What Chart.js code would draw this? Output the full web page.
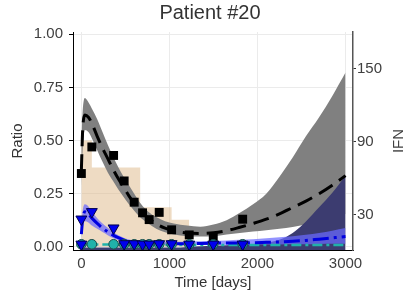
<!DOCTYPE html>
<html>
<head>
<meta charset="utf-8">
<script src="https://cdn.jsdelivr.net/npm/chart.js@4"></script>
<style>
  body { margin: 0; background: #fff; }
</style>
</head>
<body>
<canvas id="chart" width="420" height="300"></canvas>
<script>
// ticks
const xTicks = [0, 1000, 2000, 3000]
const yTicks = [0, 0.25, 0.5, 0.75, 1.0]
const ifnTicks = [30, 90, 150]

// histogram (step bars)
const binEdges = [0, 119, 668, 1025, 1225]
const binHeights = [0.5, 0.373, 0.186, 0.127]

// observations
const obsDays = [0, 119, 366, 486, 600, 695, 770, 884, 1025, 1225, 1498, 1832]
const squareVals = [0.345, 0.47, 0.43, 0.31, 0.21, 0.16, 0.128, 0.162, 0.08, 0.056, 0.045, 0.13]
const triangleVals = [0.13, 0.165, 0.088, 0.014, 0.014, 0.012, 0.012, 0.014, 0.014, 0.012, 0.012, 0.012]
const circleVals = [0.012, 0.012, 0.012, 0.012, 0.012, 0.012, 0.012, 0.012, 0.012, 0.012, 0.012, 0.012]

// model curves
const modelDays = [0, 15, 40, 80, 120, 180, 240, 300, 360, 420, 480, 540, 600, 680, 760, 850, 950, 1050, 1200, 1350, 1500, 1650, 1800, 1950, 2100, 2250, 2400, 2550, 2700, 2850, 3000]
const blackMean = [0.36, 0.55, 0.62, 0.61, 0.58, 0.52, 0.465, 0.415, 0.365, 0.32, 0.28, 0.24, 0.205, 0.165, 0.135, 0.108, 0.088, 0.075, 0.065, 0.063, 0.066, 0.076, 0.092, 0.11, 0.13, 0.155, 0.185, 0.215, 0.25, 0.29, 0.335]
const blackUpper = [0.5, 0.64, 0.7, 0.68, 0.65, 0.6, 0.54, 0.48, 0.425, 0.375, 0.33, 0.29, 0.25, 0.2, 0.165, 0.14, 0.12, 0.11, 0.1, 0.095, 0.105, 0.125, 0.16, 0.2, 0.25, 0.33, 0.42, 0.52, 0.61, 0.71, 0.82]
const blackLower = [0.28, 0.46, 0.55, 0.54, 0.51, 0.455, 0.4, 0.35, 0.31, 0.27, 0.235, 0.2, 0.17, 0.135, 0.11, 0.085, 0.068, 0.058, 0.05, 0.048, 0.05, 0.058, 0.065, 0.072, 0.078, 0.085, 0.093, 0.105, 0.12, 0.135, 0.155]
const blueMean = [0.06, 0.13, 0.165, 0.155, 0.135, 0.11, 0.088, 0.07, 0.055, 0.043, 0.033, 0.026, 0.021, 0.018, 0.016, 0.015, 0.015, 0.015, 0.015, 0.016, 0.017, 0.018, 0.018, 0.019, 0.021, 0.023, 0.026, 0.03, 0.036, 0.042, 0.048]
const blueUpper = [0.1, 0.17, 0.2, 0.19, 0.165, 0.135, 0.11, 0.09, 0.07, 0.055, 0.043, 0.035, 0.03, 0.027, 0.025, 0.024, 0.024, 0.024, 0.025, 0.026, 0.028, 0.03, 0.033, 0.036, 0.04, 0.045, 0.05, 0.057, 0.065, 0.076, 0.088]
const blueLower = [0.04, 0.09, 0.12, 0.115, 0.1, 0.085, 0.07, 0.055, 0.042, 0.032, 0.024, 0.018, 0.014, 0.011, 0.01, 0.01, 0.01, 0.01, 0.01, 0.01, 0.01, 0.01, 0.01, 0.01, 0.011, 0.011, 0.012, 0.012, 0.013, 0.014, 0.015]
const tealMean = [0.012, 0.012, 0.012, 0.012, 0.012, 0.011, 0.011, 0.011, 0.01, 0.01, 0.01, 0.01, 0.01, 0.01, 0.009, 0.009, 0.009, 0.009, 0.009, 0.009, 0.008, 0.008, 0.008, 0.008, 0.008, 0.008, 0.008, 0.008, 0.008, 0.008, 0.008]
const ifnUpper = [3, 3, 3, 3, 3, 3, 3, 3, 3, 3, 3, 3, 3, 3, 3, 3, 3, 3, 3.5, 4, 4.5, 5, 5.5, 6, 7, 9.5, 15, 24.5, 36, 48, 62]

const FONT = "'Liberation Sans', Arial, sans-serif"
const pts = (xs, ys) => xs.map((x, i) => ({ x: x, y: ys[i] }))

function stepPoints() {
    const out = binHeights.map((h, i) => ({ x: binEdges[i], y: h }))
    const last = binEdges[binEdges.length - 1]
    out.push({ x: last, y: binHeights[binHeights.length - 1] })
    out.push({ x: last, y: 0 })
    return out
}

const curve = {
    pointRadius: 0,
    cubicInterpolationMode: 'monotone',
    fill: false
}

// right axis title, drawn bottom-to-top like the left one
const ifnTitle = {
    id: 'ifnTitle',
    afterDraw(chart) {
        const ctx = chart.ctx
        ctx.save()
        ctx.translate(399, 141)
        ctx.rotate(-Math.PI / 2)
        ctx.font = '15px ' + FONT
        ctx.fillStyle = '#404040'
        ctx.textAlign = 'center'
        ctx.textBaseline = 'middle'
        ctx.fillText('IFN', 0, 0)
        ctx.restore()
    }
}

new Chart(document.getElementById('chart'), {
    type: 'line',
    data: {
        datasets: [
            // 0 histogram
            { data: stepPoints(), stepped: 'before', borderWidth: 0, pointRadius: 0,
              backgroundColor: 'rgba(222,184,135,0.5)', fill: 'origin', order: 20 },
            // 1 gray band lower
            { ...curve, data: pts(modelDays, blackLower), borderWidth: 0, order: 19 },
            // 2 gray band upper
            { ...curve, data: pts(modelDays, blackUpper), borderWidth: 0,
              fill: { target: 1 }, backgroundColor: '#808080', order: 18 },
            // 3 IFN band (right axis)
            { ...curve, data: pts(modelDays, ifnUpper), yAxisID: 'y2', borderWidth: 0,
              fill: 'origin', backgroundColor: 'rgb(60,60,112)', order: 17 },
            // 4 blue band lower
            { ...curve, data: pts(modelDays, blueLower), borderWidth: 0, order: 16 },
            // 5 blue band upper
            { ...curve, data: pts(modelDays, blueUpper), borderWidth: 0,
              fill: { target: 4 }, backgroundColor: 'rgba(105,105,255,0.72)', order: 15 },
            // 6 teal line
            { ...curve, data: pts(modelDays, tealMean), borderColor: '#20b2aa',
              borderWidth: 2.5, borderDash: [10, 4, 3, 4], order: 14 },
            // 7 black mean
            { ...curve, data: pts(modelDays, blackMean), borderColor: '#000',
              borderWidth: 3, borderDash: [16, 8], order: 13 },
            // 8 blue mean
            { ...curve, data: pts(modelDays, blueMean), borderColor: '#0000e0',
              borderWidth: 3, borderDash: [16, 5, 3, 5], order: 12 },
            // 9 squares
            { data: pts(obsDays, squareVals), showLine: false, pointStyle: 'rect',
              pointRadius: 6.3, pointBackgroundColor: '#000', pointBorderColor: '#000',
              pointBorderWidth: 0, order: 3 },
            // 10 circles
            { data: pts(obsDays, circleVals), showLine: false, pointStyle: 'circle',
              pointRadius: 4.8, pointBackgroundColor: '#20b2aa', pointBorderColor: '#1d4d4a',
              pointBorderWidth: 1, order: 2 },
            // 11 triangles
            { data: pts(obsDays, triangleVals).concat([{ x: 0, y: 0.012 }]), showLine: false,
              pointStyle: 'triangle', rotation: 180, pointRadius: 6.3,
              pointBackgroundColor: '#0000ee', pointBorderColor: '#000050',
              pointBorderWidth: 1, order: 1 }
        ]
    },
    options: {
        responsive: false,
        animation: false,
        layout: { padding: 0 },
        plugins: {
            legend: { display: false },
            tooltip: { enabled: false },
            title: {
                display: true,
                text: 'Patient #20',
                color: '#333',
                font: { family: FONT, size: 20, weight: 'normal' },
                padding: { top: 1, bottom: 7 }
            }
        },
        scales: {
            x: {
                type: 'linear',
                min: -95,
                max: 3085,
                afterFit(s) { s.height = 50 },
                afterBuildTicks(s) { s.ticks = xTicks.map(v => ({ value: v })) },
                grid: { color: '#ebebeb', drawTicks: false },
                border: { color: '#000', width: 1 },
                ticks: { color: '#404040', padding: 5, maxRotation: 0,
                         callback: v => String(v),
                         font: { family: FONT, size: 15 } },
                title: { display: true, text: 'Time [days]', color: '#333',
                         font: { family: FONT, size: 15 }, padding: { top: 0, bottom: 8 } }
            },
            y: {
                position: 'left',
                min: -0.015,
                max: 1.011,
                afterFit(s) { s.width = 73 },
                afterBuildTicks(s) { s.ticks = yTicks.map(v => ({ value: v })) },
                grid: { color: '#ebebeb', tickLength: 4, tickColor: '#000' },
                border: { color: '#000', width: 1 },
                ticks: { color: '#404040', padding: 6, callback: v => v.toFixed(2),
                         font: { family: FONT, size: 15 } },
                title: { display: true, text: 'Ratio', color: '#333',
                         font: { family: FONT, size: 15 }, padding: { top: 9, bottom: 0 } }
            },
            y2: {
                position: 'right',
                min: 1,
                max: 180,
                afterFit(s) { s.width = 67 },
                afterBuildTicks(s) { s.ticks = ifnTicks.map(v => ({ value: v })) },
                grid: { drawOnChartArea: false, tickLength: 3, tickColor: '#333' },
                border: { color: '#555', width: 1.5 },
                ticks: { color: '#404040', padding: 1, font: { family: FONT, size: 15 } }
            }
        }
    },
    plugins: [ifnTitle]
})
</script>
</body>
</html>
